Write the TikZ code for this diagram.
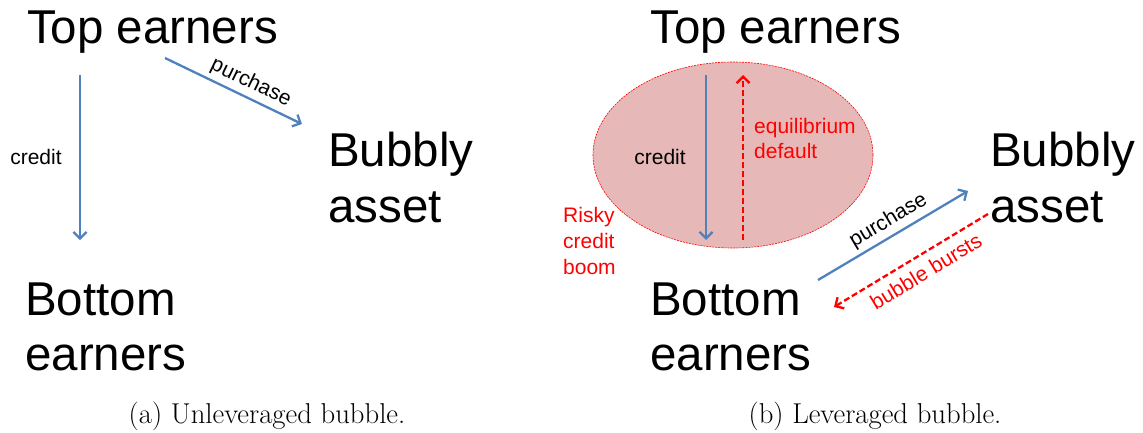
\documentclass[tikz,border=0pt]{standalone}
\usepackage{fontspec}
\newfontfamily\arialf{Liberation Sans}
\usetikzlibrary{arrows.meta,shapes.geometric}
\definecolor{arrblue}{HTML}{4F81BD}
\definecolor{ellfill}{HTML}{E6B9B8}
\tikzset{
  big/.style={font=\arialf\fontsize{47.5}{52}\selectfont, inner sep=0pt, anchor=base west},
  small/.style={font=\arialf\fontsize{21}{26}\selectfont, inner sep=0pt},
  redsmall/.style={small, text=red},
  captext/.style={font=\fontsize{28.7}{33}\selectfont, inner sep=0pt, anchor=base},
  bluearr/.style={draw=arrblue, line width=2.3pt, -{Straight Barb[length=6.5pt,width=13pt,line width=2.3pt]}},
  redarr/.style={draw=red, line width=2.3pt, dash pattern=on 6pt off 3pt, -{Straight Barb[length=6.5pt,width=13pt,line width=2.3pt]}},
}
\begin{document}
\begin{tikzpicture}[x=1pt,y=-1pt]
\useasboundingbox (0,0) rectangle (1143,432);
% ---------- panel (a) ----------
\node[big] (topa) at (27,43) {Top earners};
\node[big] (bubblya) at (328,166) {Bubbly};
\node[big] (asseta) at (328,222) {asset};
\node[big] (bottoma) at (25,315) {Bottom};
\node[big] (earnersa) at (25,370) {earners};
\coordinate (ca1) at (80,75);
\coordinate (ca2) at (80,240);
\draw[bluearr] (ca1) -- (ca2);
\node[small] (credita) at (36,157) {credit};
\coordinate (pa1) at (165,58);
\coordinate (pa2) at (302,124);
\draw[bluearr] (pa1) -- node[pos=0.58, sloped, above, small, inner sep=4pt] (purchasea) {purchase} (pa2);
\node[captext] (capa) at (267,423) {(a) Unleveraged bubble.};
% ---------- panel (b) ----------
\node[draw=red, line width=0.6pt, dash pattern=on 2pt off 1pt, fill=ellfill,
      ellipse, minimum width=280pt, minimum height=186pt, inner sep=0pt] (boom) at (733,155) {};
\node[big] (topb) at (650,43) {Top earners};
\node[big] (bubblyb) at (990,166) {Bubbly};
\node[big] (assetb) at (990,222) {asset};
\node[big] (bottomb) at (650,315) {Bottom};
\node[big] (earnersb) at (650,370) {earners};
\coordinate (cb1) at (706,75);
\coordinate (cb2) at (706,240);
\draw[bluearr] (cb1) -- (cb2);
\node[small] (creditb) at (660,157) {credit};
\coordinate (db1) at (743,240);
\coordinate (db2) at (743,75);
\draw[redarr] (db1) -- (db2);
\node[redsmall, anchor=base west] (equil) at (754,133) {equilibrium};
\node[redsmall, anchor=base west] (default) at (754,158) {default};
\node[redsmall, anchor=base west] (risky) at (563,222) {Risky};
\node[redsmall, anchor=base west] (riskyc) at (563,248) {credit};
\node[redsmall, anchor=base west] (riskyb) at (563,274) {boom};
\coordinate (pb1) at (818,280);
\coordinate (pb2) at (968,191);
\draw[bluearr] (pb1) -- node[pos=0.52, sloped, above, small, inner sep=4pt] (purchaseb) {purchase} (pb2);
\coordinate (bb1) at (988,214);
\coordinate (bb2) at (834,307);
\draw[redarr] (bb1) -- (bb2);
\path (bb2) -- node[pos=0.54, sloped, below, redsmall, inner sep=9pt] (bursts) {bubble bursts} (bb1);
\node[captext] (capb) at (875,423) {(b) Leveraged bubble.};
\end{tikzpicture}
\end{document}
